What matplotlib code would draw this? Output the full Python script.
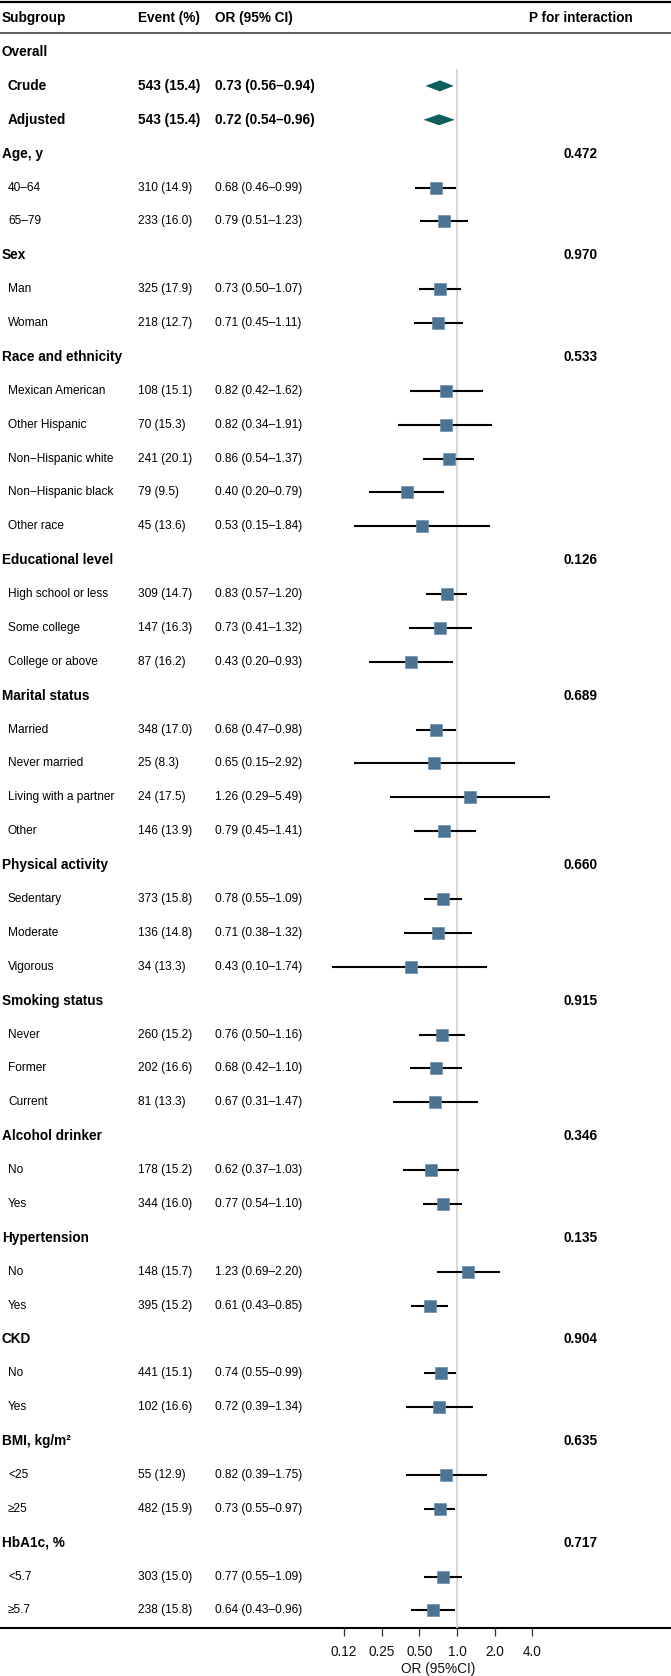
import matplotlib
matplotlib.use('Agg')
import matplotlib.pyplot as plt
import matplotlib.transforms as mtransforms
import numpy as np

plt.rcParams['font.family'] = ['Liberation Sans', 'DejaVu Sans']

# ---------------- data ----------------
row_labels = [
    "Overall", "Crude", "Adjusted",
    "Age, y", "40–64", "65–79",
    "Sex", "Man", "Woman",
    "Race and ethnicity", "Mexican American", "Other Hispanic",
    "Non−Hispanic white", "Non−Hispanic black", "Other race",
    "Educational level", "High school or less", "Some college", "College or above",
    "Marital status", "Married", "Never married", "Living with a partner", "Other",
    "Physical activity", "Sedentary", "Moderate", "Vigorous",
    "Smoking status", "Never", "Former", "Current",
    "Alcohol drinker", "No", "Yes",
    "Hypertension", "No", "Yes",
    "CKD", "No", "Yes",
    "BMI, kg/m²", "<25", "≥25",
    "HbA1c, %", "<5.7", "≥5.7",
]
row_kind = [
    "head", "overall", "overall",
    "head", "sub", "sub",
    "head", "sub", "sub",
    "head", "sub", "sub", "sub", "sub", "sub",
    "head", "sub", "sub", "sub",
    "head", "sub", "sub", "sub", "sub",
    "head", "sub", "sub", "sub",
    "head", "sub", "sub", "sub",
    "head", "sub", "sub",
    "head", "sub", "sub",
    "head", "sub", "sub",
    "head", "sub", "sub",
    "head", "sub", "sub",
]
event_n = [
    None, 543, 543,
    None, 310, 233,
    None, 325, 218,
    None, 108, 70, 241, 79, 45,
    None, 309, 147, 87,
    None, 348, 25, 24, 146,
    None, 373, 136, 34,
    None, 260, 202, 81,
    None, 178, 344,
    None, 148, 395,
    None, 441, 102,
    None, 55, 482,
    None, 303, 238,
]
event_pct = [
    None, 15.4, 15.4,
    None, 14.9, 16.0,
    None, 17.9, 12.7,
    None, 15.1, 15.3, 20.1, 9.5, 13.6,
    None, 14.7, 16.3, 16.2,
    None, 17.0, 8.3, 17.5, 13.9,
    None, 15.8, 14.8, 13.3,
    None, 15.2, 16.6, 13.3,
    None, 15.2, 16.0,
    None, 15.7, 15.2,
    None, 15.1, 16.6,
    None, 12.9, 15.9,
    None, 15.0, 15.8,
]
or_est = [
    None, 0.73, 0.72,
    None, 0.68, 0.79,
    None, 0.73, 0.71,
    None, 0.82, 0.82, 0.86, 0.40, 0.53,
    None, 0.83, 0.73, 0.43,
    None, 0.68, 0.65, 1.26, 0.79,
    None, 0.78, 0.71, 0.43,
    None, 0.76, 0.68, 0.67,
    None, 0.62, 0.77,
    None, 1.23, 0.61,
    None, 0.74, 0.72,
    None, 0.82, 0.73,
    None, 0.77, 0.64,
]
or_lo = [
    None, 0.56, 0.54,
    None, 0.46, 0.51,
    None, 0.50, 0.45,
    None, 0.42, 0.34, 0.54, 0.20, 0.15,
    None, 0.57, 0.41, 0.20,
    None, 0.47, 0.15, 0.29, 0.45,
    None, 0.55, 0.38, 0.10,
    None, 0.50, 0.42, 0.31,
    None, 0.37, 0.54,
    None, 0.69, 0.43,
    None, 0.55, 0.39,
    None, 0.39, 0.55,
    None, 0.55, 0.43,
]
or_hi = [
    None, 0.94, 0.96,
    None, 0.99, 1.23,
    None, 1.07, 1.11,
    None, 1.62, 1.91, 1.37, 0.79, 1.84,
    None, 1.20, 1.32, 0.93,
    None, 0.98, 2.92, 5.49, 1.41,
    None, 1.09, 1.32, 1.74,
    None, 1.16, 1.10, 1.47,
    None, 1.03, 1.10,
    None, 2.20, 0.85,
    None, 0.99, 1.34,
    None, 1.75, 0.97,
    None, 1.09, 0.96,
]
p_interaction = [
    "", "", "",
    "0.472", "", "",
    "0.970", "", "",
    "0.533", "", "", "", "", "",
    "0.126", "", "", "",
    "0.689", "", "", "", "",
    "0.660", "", "", "",
    "0.915", "", "", "",
    "0.346", "", "",
    "0.135", "", "",
    "0.904", "", "",
    "0.635", "", "",
    "0.717", "", "",
]
header_labels = ["Subgroup", "Event (%)", "OR (95% CI)", "P for interaction"]
tick_values = [0.125, 0.25, 0.5, 1.0, 2.0, 4.0]
tick_labels = ["0.12", "0.25", "0.50", "1.0", "2.0", "4.0"]
axis_label = "OR (95%CI)"

# ---------------- layout ----------------
W, H = 671, 1676
fig = plt.figure(figsize=(W / 100, H / 100), dpi=100)
bg = fig.add_axes([0, 0, 1, 1])
bg.set_xlim(0, W)
bg.set_ylim(H, 0)
bg.axis('off')

ROW0 = 52.0
STEP = 33.88
TOP_PX = 35.0
BOT_PX = 1628.0
ONE_PX = 457.0
PX_PER_DOUBLING = 37.7
FL, FR = 290.0, 620.0

BOLD = 9.8
REG = 8.6
X_SUB_HEAD = 2
X_SUB = 8
X_EVENT = 138
X_OR = 215
X_P = 581

def rowpx(i):
    return ROW0 + i * STEP

# rules
bg.hlines(2, 0, W, color='black', lw=1.6)
bg.hlines(33.5, 0, W, color='#333333', lw=1.1)
bg.hlines(BOT_PX, 0, W, color='black', lw=1.5)

# header
hy = 18
bg.text(X_SUB_HEAD, hy, header_labels[0], fontsize=BOLD, fontweight='bold', va='center', ha='left')
bg.text(X_EVENT, hy, header_labels[1], fontsize=BOLD, fontweight='bold', va='center', ha='left')
bg.text(X_OR, hy, header_labels[2], fontsize=BOLD, fontweight='bold', va='center', ha='left')
bg.text(X_P, hy, header_labels[3], fontsize=BOLD, fontweight='bold', va='center', ha='center')

# table text
for i, lab in enumerate(row_labels):
    y = rowpx(i)
    kind = row_kind[i]
    if kind == 'head':
        bg.text(X_SUB_HEAD, y, lab, fontsize=BOLD, fontweight='bold', va='center', ha='left')
        if p_interaction[i]:
            bg.text(X_P, y, p_interaction[i], fontsize=BOLD, fontweight='bold', va='center', ha='center')
        continue
    bold = kind == 'overall'
    fs = BOLD if bold else REG
    fw = 'bold' if bold else 'normal'
    bg.text(X_SUB, y, lab, fontsize=fs, fontweight=fw, va='center', ha='left')
    bg.text(X_EVENT, y, f"{event_n[i]} ({event_pct[i]:.1f})", fontsize=fs, fontweight=fw,
            va='center', ha='left')
    bg.text(X_OR, y, f"{or_est[i]:.2f} ({or_lo[i]:.2f}–{or_hi[i]:.2f})", fontsize=fs,
            fontweight=fw, va='center', ha='left')

# forest axes
fa = fig.add_axes([FL / W, (H - BOT_PX) / H, (FR - FL) / W, (BOT_PX - TOP_PX) / H])
fa.patch.set_alpha(0)
fa.set_xscale('log', base=2)
fa.set_xlim(2 ** ((FL - ONE_PX) / PX_PER_DOUBLING), 2 ** ((FR - ONE_PX) / PX_PER_DOUBLING))
fa.set_ylim((BOT_PX - ROW0) / STEP, (TOP_PX - ROW0) / STEP)
for s in fa.spines.values():
    s.set_visible(False)
fa.set_yticks([])
fa.set_xticks(tick_values)
fa.set_xticklabels(tick_labels)
fa.xaxis.set_minor_locator(matplotlib.ticker.NullLocator())
fa.tick_params(axis='x', direction='out', length=6, width=0.9, color='#333333',
               labelsize=BOLD, pad=6, labelcolor='#111111')

ylo = (BOT_PX - ROW0) / STEP
fa.vlines(1.0, 0.5, ylo, color='#d6d6d6', lw=1.3, zorder=1)

rows = np.arange(len(row_labels))
sub_idx = [i for i in rows if row_kind[i] == 'sub']
ov_idx = [i for i in rows if row_kind[i] == 'overall']

fa.hlines([rows[i] for i in sub_idx], [or_lo[i] for i in sub_idx], [or_hi[i] for i in sub_idx],
          color='black', lw=1.5, zorder=2)
fa.plot([or_est[i] for i in sub_idx], [rows[i] for i in sub_idx], 's', ms=8.6,
        mfc='#4a7394', mec='#6d8fab', mew=0.5, zorder=3)

dh = 5.5 / STEP
for i in ov_idx:
    fa.fill([or_lo[i], or_est[i], or_hi[i], or_est[i]],
            [rows[i], rows[i] - dh, rows[i], rows[i] + dh],
            color='#0f5e5e', lw=0, zorder=3)

trans = mtransforms.blended_transform_factory(fa.transData, bg.transData)
fa.text(np.sqrt(tick_values[0] * tick_values[-1]), 1669, axis_label, transform=trans,
        fontsize=BOLD, ha='center', va='center', color='#111111')

fig.savefig('out.png', dpi=100)
